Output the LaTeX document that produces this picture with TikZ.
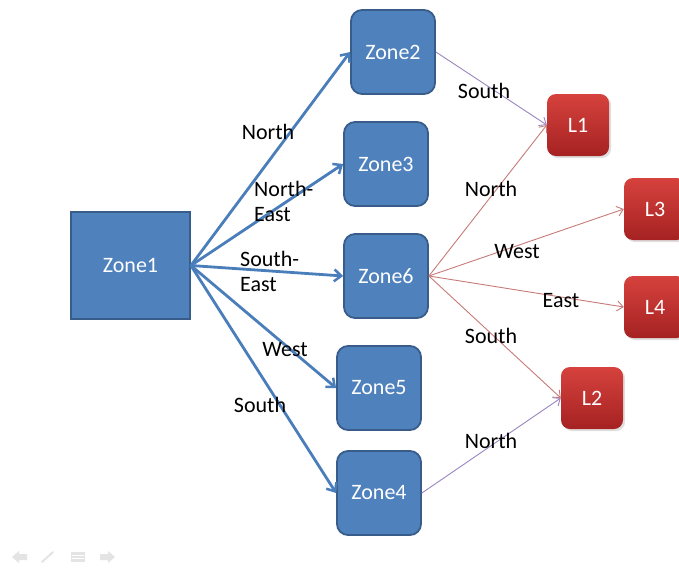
\documentclass[tikz,border=0pt]{standalone}
\usepackage{fontspec}
\setmainfont{Carlito}
\usetikzlibrary{arrows.meta,shadows}
\definecolor{zblue}{HTML}{4F81BD}
\definecolor{zblueb}{HTML}{385D8A}
\definecolor{zarrow}{HTML}{4A7EBB}
\definecolor{ltop}{HTML}{D6423D}
\definecolor{lbot}{HTML}{A52222}
\definecolor{redline}{HTML}{C77B79}
\definecolor{purpline}{HTML}{9A86C0}
\definecolor{iconc}{HTML}{E4E4E4}
\tikzset{
  txt/.style={font=\fontsize{22}{25}\selectfont},
  zonesq/.style={txt, draw=zblueb, line width=1.8pt, fill=zblue, text=white, minimum width=119pt, minimum height=107pt, inner sep=0pt},
  zonebox/.style={txt, draw=zblueb, line width=1.8pt, fill=zblue, text=white, rounded corners=11pt, minimum width=84pt, minimum height=84pt, inner sep=0pt},
  lbox/.style={txt, top color=ltop, bottom color=lbot, draw=none, text=white, rounded corners=9pt, minimum width=62pt, minimum height=62pt, inner sep=0pt, drop shadow={opacity=0.25, shadow xshift=2pt, shadow yshift=-2pt}},
  lab/.style={txt, text=black, inner sep=0pt},
  bluearrow/.style={draw=zarrow, line width=2.8pt, -{Straight Barb[length=7pt, width=12pt, line width=2.5pt]}},
  redarrow/.style={draw=redline, line width=0.9pt, -{Straight Barb[length=6pt, width=10pt]}},
  purparrow/.style={draw=purpline, line width=0.9pt, -{Straight Barb[length=6pt, width=10pt]}}
}
\begin{document}
\begin{tikzpicture}[x=1pt,y=-1pt]
\useasboundingbox[fill=white] (0,0) rectangle (679,568);

\node[zonesq]  (z1) at (130.5,265.5) {Zone1};
\node[zonebox] (z2) at (393,52)  {Zone2};
\node[zonebox] (z3) at (386,164) {Zone3};
\node[zonebox] (z6) at (386,276) {Zone6};
\node[zonebox] (z5) at (379,388) {Zone5};
\node[zonebox] (z4) at (379,493) {Zone4};

\node[lbox] (l1) at (578,125) {L1};
\node[lbox] (l3) at (655,209) {L3};
\node[lbox] (l4) at (655,307) {L4};
\node[lbox] (l2) at (592,398) {L2};

\draw[bluearrow] (z1.east) -- (z2.west);
\draw[bluearrow] (z1.east) -- (z3.west);
\draw[bluearrow] (z1.east) -- (z6.west);
\draw[bluearrow] (z1.east) -- (z5.west);
\draw[bluearrow] (z1.east) -- (z4.west);

\draw[purparrow] (z2.east) -- (l1.west);
\draw[redarrow] (z6.east) -- (l1.west);
\draw[redarrow] (z6.east) -- (l3.west);
\draw[redarrow] (z6.east) -- (l4.west);
\draw[redarrow] (z6.east) -- (l2.west);
\draw[purparrow] (z4.east) -- (l2.west);

\node[lab] (tn1) at (268,132) {North};
\node[lab, align=left, anchor=west] (tne) at (254,201) {North-\\East};
\node[lab, align=left, anchor=west] (tse) at (240,271) {South-\\East};
\node[lab] (tw1) at (285,350) {West};
\node[lab] (ts1) at (260,405) {South};

\node[lab] (ts2) at (484,91) {South};
\node[lab] (tn2) at (491,189) {North};
\node[lab] (tw2) at (517,252) {West};
\node[lab] (te2) at (561,301) {East};
\node[lab] (ts3) at (491,336) {South};
\node[lab] (tn3) at (491,441) {North};

% faint slideshow controls
\fill[iconc] (12,557) -- (19,551) -- (19,554) -- (27,554) -- (27,560) -- (19,560) -- (19,563) -- cycle;
\draw[iconc, line width=2pt, line cap=round] (42,562) -- (53,552);
\fill[iconc] (71,552) rectangle (85,562);
\draw[white, line width=0.6pt] (72,555.5) -- (84,555.5) (72,558.5) -- (84,558.5);
\fill[iconc] (115,557) -- (108,551) -- (108,554) -- (100,554) -- (100,560) -- (108,560) -- (108,563) -- cycle;
\end{tikzpicture}
\end{document}
